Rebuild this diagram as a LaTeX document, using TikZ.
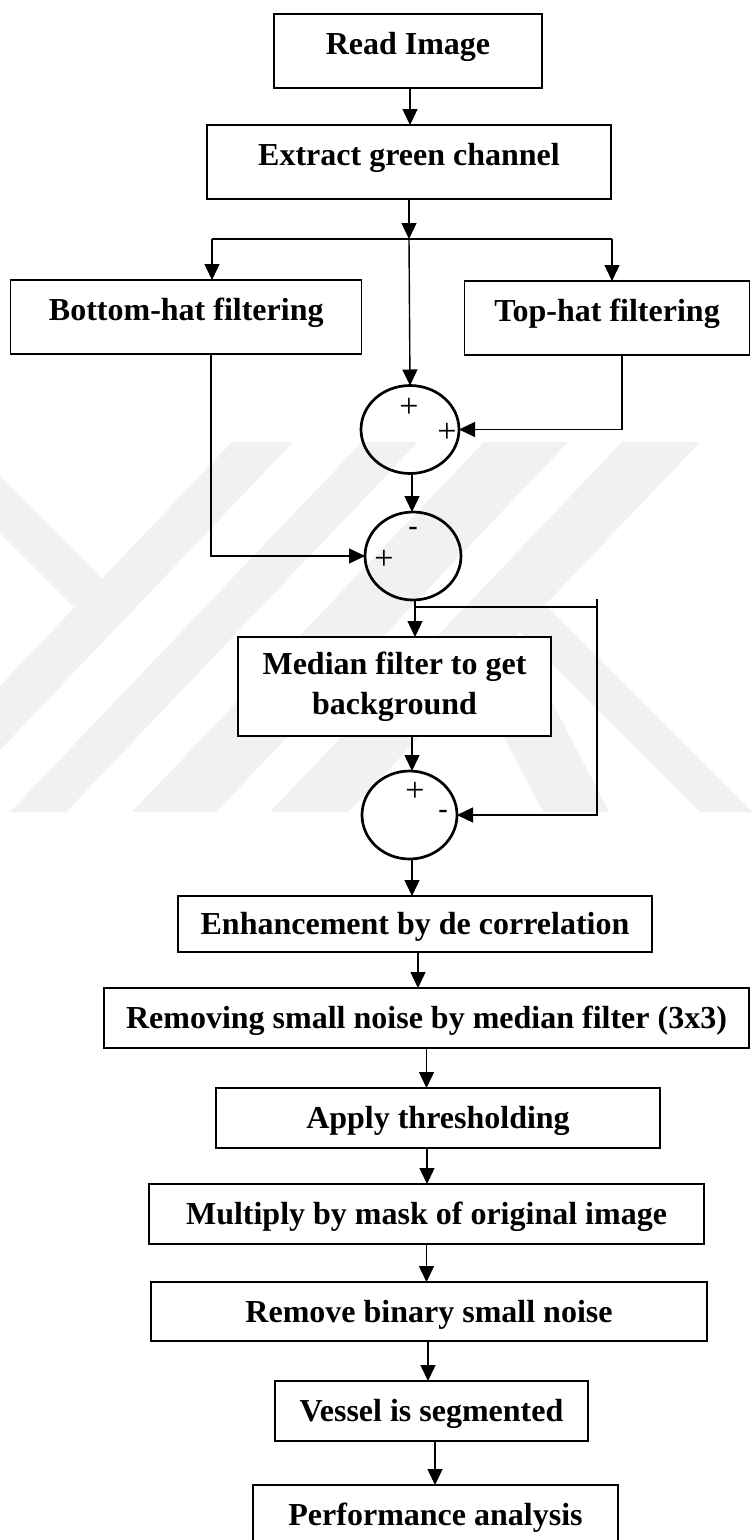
\documentclass[tikz,border=0pt]{standalone}
\usepackage{fontspec}
\setmainfont{Liberation Serif}
\newfontfamily\signsans{Liberation Sans}
\usetikzlibrary{arrows.meta,shapes.geometric}
\definecolor{wm}{HTML}{F1F1F1}
\begin{document}
\begin{tikzpicture}[x=1pt,y=-1pt,
  box/.style={draw, line width=1.4pt, fill=white, inner sep=0pt, outer sep=0pt,
    font=\fontsize{32}{40}\selectfont\bfseries},
  upbox/.style={box, text height=21pt, text depth=14pt},
  lowbox/.style={box, text height=21pt, text depth=0pt},
  sumnode/.style={draw, ellipse, line width=2.7pt, inner sep=0pt, outer sep=0pt},
  plussign/.style={inner sep=0pt, font=\fontsize{34}{34}\selectfont},
  minussign/.style={inner sep=0pt, font=\signsans\fontsize{30}{30}\selectfont},
  conn/.style={line width=1.4pt},
  arr/.style={line width=1.4pt, -{Triangle[length=16pt,width=15pt]}}
]
\useasboundingbox (0,0) rectangle (752,1540);
\fill[white] (0,0) rectangle (752,1540);

% faint watermark
\begin{scope}
\clip (0,442) rectangle (752,812);
\fill[wm] (232,442) -- (293,442) -- (-59,812) -- (-120,812) -- cycle;
\fill[wm] (362,442) -- (418,442) -- (66,812) -- (10,812) -- cycle;
\fill[wm] (484,442) -- (568,442) -- (216,812) -- (132,812) -- cycle;
\fill[wm] (622,442) -- (700,442) -- (348,812) -- (270,812) -- cycle;
\fill[wm] (0,476) -- (130,606) -- (100,633) -- (0,533) -- cycle;
\fill[wm] (537,596) -- (753,812) -- (700,812) -- (505,617) -- cycle;
\fill[wm] (513,627) -- (609,812) -- (543,812) -- (447,627) -- cycle;
\end{scope}

% boxes
\node[upbox, minimum width=268pt, minimum height=74pt] (read) at (408,51) {Read Image};
\node[upbox, minimum width=404pt, minimum height=74pt] (extract) at (409,162) {Extract green channel};
\node[upbox, minimum width=351pt, minimum height=74pt] (bottomhat) at (186.25,317) {Bottom-hat filtering};
\node[upbox, minimum width=285pt, minimum height=74pt] (tophat) at (607,318) {Top-hat filtering};
\node[box, align=center, minimum width=313pt, minimum height=99pt] (median) at (394.5,686.5) {Median filter to get\\background};
\node[lowbox, minimum width=474pt, minimum height=56pt] (enh) at (415,924) {Enhancement by de correlation};
\node[lowbox, minimum width=645pt, minimum height=60pt] (rem) at (426.5,1018) {Removing small noise by median filter (3x3)};
\node[lowbox, minimum width=444pt, minimum height=60pt] (apply) at (438,1118) {Apply thresholding};
\node[lowbox, minimum width=555pt, minimum height=60pt] (mult) at (426.5,1214) {Multiply by mask of original image};
\node[lowbox, minimum width=556pt, minimum height=59pt] (remb) at (429,1311.5) {Remove binary small noise};
\node[lowbox, minimum width=313pt, minimum height=60pt] (vessel) at (431.5,1411) {Vessel is segmented};
\node[lowbox, minimum width=365pt, minimum height=60pt] (perf) at (435.5,1515) {Performance analysis};

% summing junctions
\node[sumnode, minimum width=98pt, minimum height=88pt] (c1) at (410,429.5) {};
\node[sumnode, minimum width=96pt, minimum height=88pt] (c2) at (413,556) {};
\node[sumnode, minimum width=95pt, minimum height=88pt] (c3) at (409.5,815) {};

% signs
\node[plussign] (s1a) at (409,408) {+};
\node[plussign] (s1b) at (447,433) {+};
\node[minussign] (s2a) at (413,532) {-};
\node[plussign] (s2b) at (384,560) {+};
\node[plussign] (s3a) at (415,792) {+};
\node[minussign] (s3b) at (443,815) {-};

% connectors
\coordinate (jy) at (0,239);
\coordinate (jl) at (212,239);
\coordinate (jr) at (612,239);
\coordinate (fbtop) at (597,599);
\coordinate (fbmid) at (597,607);

\draw[arr] ([xshift=2pt]read.south) -- ([xshift=2pt]read.south |- extract.north);
\draw[arr] (extract.south) -- (extract.south |- jy);
\draw[conn] (jl) -- (jr);
\draw[arr] (jl) -- (jl |- bottomhat.north);
\draw[arr] (jr) -- (jr |- tophat.north);
\draw[arr] (extract.south |- jy) -- (c1.north);
\draw[arr] ([xshift=15pt]tophat.south) |- (c1.east);
\draw[arr] ([xshift=24.75pt]bottomhat.south) |- (c2.west);
\draw[arr] ([xshift=2pt]c1.south) -- ([xshift=2pt]c1.south |- c2.north);
\draw[arr] ([xshift=2pt]c2.south) -- ([xshift=2pt]c2.south |- median.north);
\draw[conn] ([xshift=2pt]c2.south |- fbmid) -- (fbmid);
\draw[arr] (fbtop) |- (c3.east);
\draw[arr] ([xshift=17.5pt]median.south) -- ([xshift=17.5pt]median.south |- c3.north);
\draw[arr] ([xshift=2.5pt]c3.south) -- ([xshift=2.5pt]c3.south |- enh.north);
\draw[arr] ([xshift=3pt]enh.south) -- ([xshift=3pt]enh.south |- rem.north);
\draw[arr] (rem.south) -- (rem.south |- apply.north);
\draw[arr] ([xshift=0.5pt]mult.north |- apply.south) -- ([xshift=0.5pt]mult.north);
\draw[arr] (mult.south) -- (mult.south |- remb.north);
\draw[arr] ([xshift=-1pt]remb.south) -- ([xshift=-1pt]remb.south |- vessel.north);
\draw[arr] ([xshift=3.5pt]vessel.south) -- ([xshift=3.5pt]vessel.south |- perf.north);
\end{tikzpicture}
\end{document}
